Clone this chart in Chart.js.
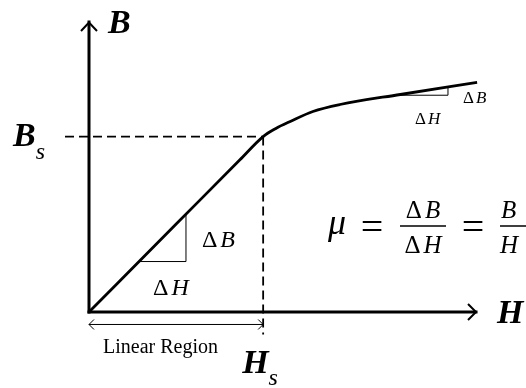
<!DOCTYPE html>
<html>
<head>
<meta charset="utf-8">
<title>B-H curve</title>
<script src="https://cdn.jsdelivr.net/npm/chart.js@4.4.1/dist/chart.umd.min.js"></script>
<style>
  html, body { margin: 0; padding: 0; background: #fff; }
  #wrap { width: 526px; height: 388px; }
</style>
</head>
<body>
<div id="wrap"><canvas id="bh"></canvas></div>
<script>
// magnetisation curve B(H), arbitrary units
const curveH = [0, 1.55, 2.73, 3.15, 3.38, 3.64, 4.05, 4.54, 5.63, 7.02];
const curveB = [0, 0.596, 1.05, 1.21, 1.266, 1.314, 1.383, 1.431, 1.50, 1.583];

// saturation point and axis extents
const satH = 3.15;
const satB = 1.21;
const axisMaxH = 7;
const axisMaxB = 2;

// slope triangles (linear region and saturated region)
const lowTriH = [0.906, 1.754, 1.754];
const lowTriB = [0.348, 0.348, 0.675];
const highTriH = [5.625, 6.493, 6.493];
const highTriB = [1.495, 1.495, 1.548];

// guide lines
const bsGuideH = [-0.434, satH];
const hsGuideB = [satB, -0.155];
const linearRegionB = -0.086;

const pts = (xs, ys) => xs.map((v, i) => ({ x: v, y: ys[i] }));

const SERIF = '"Liberation Serif", "DejaVu Serif", serif';

// write a run of text pieces with their own fonts, left to right
const drawRun = (ctx, parts, x, y, align) => {
    let total = 0;
    parts.forEach(p => {
        ctx.font = p.font;
        total += ctx.measureText(p.text).width + (p.gap || 0);
    });
    let cx = align === 'center' ? x - total / 2 : x;
    parts.forEach(p => {
        ctx.font = p.font;
        ctx.fillText(p.text, cx, y + (p.dy || 0));
        cx += ctx.measureText(p.text).width + (p.gap || 0);
    });
};

const delta = (sym, size) => [
    { text: '\u0394', font: `${size}px ${SERIF}`, gap: size * 0.12 },
    { text: sym, font: `italic ${size}px ${SERIF}` }
];

const overlay = {
    id: 'overlay',
    afterDatasetsDraw(chart) {
        const { ctx, scales: { x, y } } = chart;
        const x0 = x.getPixelForValue(0);
        const y0 = y.getPixelForValue(0);
        const xEnd = x.getPixelForValue(axisMaxH);
        const yEnd = y.getPixelForValue(axisMaxB);
        const xs = x.getPixelForValue(satH);
        const yLin = y.getPixelForValue(linearRegionB);

        ctx.save();
        ctx.strokeStyle = '#000';
        ctx.fillStyle = '#000';
        ctx.lineJoin = 'miter';

        // axis arrow heads
        ctx.lineWidth = 2;
        ctx.beginPath();
        ctx.moveTo(x0 - 8, yEnd + 9); ctx.lineTo(x0, yEnd + 0.5); ctx.lineTo(x0 + 8, yEnd + 9);
        ctx.moveTo(xEnd - 8, y0 - 8); ctx.lineTo(xEnd, y0); ctx.lineTo(xEnd - 8, y0 + 8);
        ctx.stroke();

        // linear region arrow heads
        ctx.lineWidth = 1;
        ctx.beginPath();
        ctx.moveTo(x0 + 5, yLin - 5); ctx.lineTo(x0, yLin); ctx.lineTo(x0 + 5, yLin + 5);
        ctx.moveTo(xs - 5, yLin - 5); ctx.lineTo(xs, yLin); ctx.lineTo(xs - 5, yLin + 5);
        ctx.stroke();

        ctx.textBaseline = 'alphabetic';
        ctx.textAlign = 'left';

        // axis names
        ctx.font = `italic bold 34px ${SERIF}`;
        ctx.fillText('B', x0 + 19, yEnd + 11);
        ctx.fillText('H', xEnd + 21, y0 + 11);

        // saturation labels
        const ys = y.getPixelForValue(satB);
        drawRun(ctx, [
            { text: 'B', font: `italic bold 34px ${SERIF}` },
            { text: 's', font: `italic 24px ${SERIF}`, dy: 13 }
        ], 13, ys + 9);
        drawRun(ctx, [
            { text: 'H', font: `italic bold 34px ${SERIF}` },
            { text: 's', font: `italic 24px ${SERIF}`, dy: 12 }
        ], xs - 21, 373);

        ctx.font = `20px ${SERIF}`;
        ctx.textAlign = 'left';
        ctx.fillText('Linear Region', x0 + 14, yLin + 29);

        // triangle labels
        drawRun(ctx, delta('B', 24), x.getPixelForValue(lowTriH[1]) + 16, y.getPixelForValue(lowTriB[1]) - 15);
        drawRun(ctx, delta('H', 24), x.getPixelForValue(lowTriH[0]) + 14, y.getPixelForValue(lowTriB[0]) + 33);
        drawRun(ctx, delta('B', 17), x.getPixelForValue(highTriH[1]) + 15, y.getPixelForValue(highTriB[0]) + 8);
        drawRun(ctx, delta('H', 17), x.getPixelForValue(highTriH[0]) + 15, y.getPixelForValue(highTriB[0]) + 29);

        // permeability
        ctx.font = `italic 36px ${SERIF}`;
        ctx.fillText('\u03bc', 328, 234);
        ctx.font = `40px ${SERIF}`;
        ctx.textAlign = 'center';
        ctx.fillText('=', 372, 240);
        ctx.fillText('=', 473, 240);
        ctx.textAlign = 'left';
        drawRun(ctx, delta('B', 25), 423, 218, 'center');
        drawRun(ctx, delta('H', 25), 423, 253, 'center');
        ctx.font = `italic 25px ${SERIF}`;
        ctx.fillText('B', 501, 218);
        ctx.fillText('H', 500, 253);
        ctx.lineWidth = 1.5;
        ctx.beginPath();
        ctx.moveTo(400, 226); ctx.lineTo(446, 226);
        ctx.moveTo(500, 226); ctx.lineTo(526, 226);
        ctx.stroke();

        ctx.restore();
    }
};

const line = (data, extra) => Object.assign({
    data,
    showLine: true,
    borderColor: '#000',
    pointRadius: 0,
    fill: false,
    clip: false
}, extra);

new Chart(document.getElementById('bh'), {
    type: 'scatter',
    data: {
        datasets: [
            line(pts([0, 0], [0, axisMaxB]), { borderWidth: 3, borderCapStyle: 'square' }),
            line(pts([0, axisMaxH], [0, 0]), { borderWidth: 3, borderCapStyle: 'square' }),
            line(pts(bsGuideH, [satB, satB]), { borderWidth: 1.8, borderDash: [9, 5] }),
            line(pts([satH, satH], hsGuideB), { borderWidth: 1.8, borderDash: [9, 5] }),
            line(pts([0, satH], [linearRegionB, linearRegionB]), { borderWidth: 1 }),
            line(pts(lowTriH, lowTriB), { borderWidth: 1 }),
            line(pts(highTriH, highTriB), { borderWidth: 1 }),
            line(pts(curveH, curveB), { borderWidth: 2.8, cubicInterpolationMode: 'monotone' })
        ]
    },
    options: {
        responsive: true,
        maintainAspectRatio: false,
        animation: false,
        layout: { padding: { left: 89, right: 50, top: 22, bottom: 76 } },
        scales: {
            x: { type: 'linear', min: 0, max: axisMaxH, display: false },
            y: { type: 'linear', min: 0, max: axisMaxB, display: false }
        },
        plugins: { legend: { display: false }, tooltip: { enabled: false } }
    },
    plugins: [overlay]
});
</script>
</body>
</html>
